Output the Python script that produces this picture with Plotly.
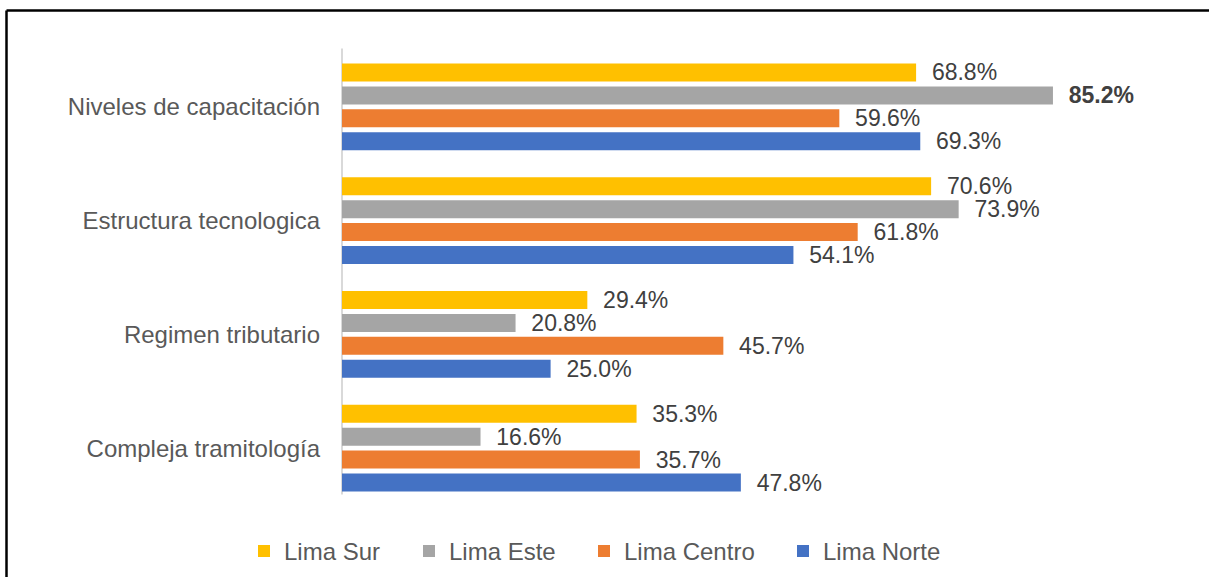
import plotly.graph_objects as go

categories = ["Niveles de capacitación", "Estructura tecnologica", "Regimen tributario", "Compleja tramitología"]
series_names = ["Lima Sur", "Lima Este", "Lima Centro", "Lima Norte"]
lima_sur = [68.8, 70.6, 29.4, 35.3]
lima_este = [85.2, 73.9, 20.8, 16.6]
lima_centro = [59.6, 61.8, 45.7, 35.7]
lima_norte = [69.3, 54.1, 25.0, 47.8]
colors = ["#FFC000", "#A5A5A5", "#ED7D31", "#4472C4"]

all_series = [lima_sur, lima_este, lima_centro, lima_norte]
max_val = max(max(s) for s in all_series)

W, H = 1209, 577
L, R, T, B = 342, 116, 49.5, 71.5
pw = W - L - R
ph = H - T - B

def px_x(x):
    return (x - L) / pw

def px_y(y):
    return (H - B - y) / ph

legend_ids = ["legend", "legend2", "legend3", "legend4"]
legend_square_left = [258, 423, 598, 797]

fig = go.Figure()
for name, vals, col, lid in zip(series_names, all_series, colors, legend_ids):
    texts = []
    for v in vals:
        s = f"{v:.1f}%"
        if v == max_val:
            s = f"<b>{s}</b>"
        texts.append("  " + s)
    fig.add_trace(go.Bar(
        y=categories, x=vals, name=name, orientation="h", legend=lid,
        marker=dict(color=col, line=dict(width=0)),
        text=texts, textposition="outside", cliponaxis=False, constraintext="none",
        textfont=dict(size=23, color="#404040", family="Liberation Sans, Arial"),
        hoverinfo="skip",
    ))

legend_layout = {}
for lid, sq in zip(legend_ids, legend_square_left):
    legend_layout[lid] = dict(
        orientation="h", x=px_x(sq - 14), xanchor="left", y=px_y(552), yanchor="middle",
        font=dict(size=24, color="#595959"), bgcolor="rgba(0,0,0,0)", borderwidth=0,
    )

fig.update_layout(
    width=W, height=H,
    margin=dict(l=L, r=R, t=T, b=B, autoexpand=False),
    paper_bgcolor="white", plot_bgcolor="white",
    barmode="group", bargap=0.193, bargroupgap=0.217,
    font=dict(family="Liberation Sans, Arial", color="#595959"),
    xaxis=dict(range=[0, 90], visible=False, fixedrange=True),
    yaxis=dict(autorange="reversed", showline=False, fixedrange=True,
               ticks="", showgrid=False, tickfont=dict(size=24, color="#595959"),
               ticklabelstandoff=21),
    showlegend=True,
    shapes=[
        dict(type="line", xref="paper", yref="paper", x0=px_x(342), x1=px_x(342),
             y0=px_y(48), y1=px_y(495), line=dict(color="#D9D9D9", width=2), layer="below"),
        dict(type="line", xref="paper", yref="paper", x0=px_x(6.5), x1=px_x(1230),
             y0=px_y(10), y1=px_y(10), line=dict(color="black", width=2.5)),
        dict(type="line", xref="paper", yref="paper", x0=px_x(6.5), x1=px_x(6.5),
             y0=px_y(10), y1=px_y(600), line=dict(color="black", width=2.5)),
    ],
    **legend_layout,
)

fig.write_html("out.html", post_script="document.body.style.margin='0';",
               config={"displayModeBar": False})
